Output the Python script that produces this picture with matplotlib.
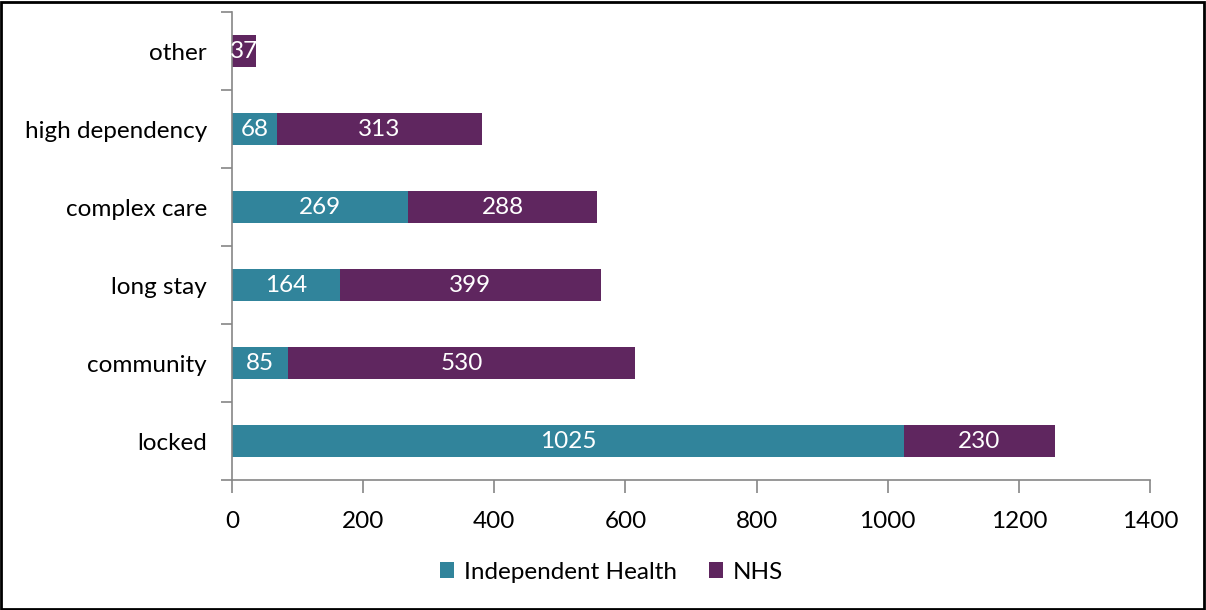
import numpy as np
import matplotlib.pyplot as plt
from matplotlib.patches import Rectangle

categories = ['locked', 'community', 'long stay', 'complex care', 'high dependency', 'other']
independent = [1025, 85, 164, 269, 68, 0]
nhs = [230, 530, 399, 288, 313, 37]

teal = '#31849B'
purple = '#5F265F'
spine_col = '#868686'

plt.rcParams['font.family'] = ['Lato', 'DejaVu Sans']
fs = 17.5

fig = plt.figure(figsize=(12.06, 6.10), dpi=100)
ax = fig.add_axes([0.1924, 0.2131, 0.7612, 0.7672])

y = np.arange(len(categories))
b1 = ax.barh(y, independent, height=0.4, color=teal, label='Independent Health')
b2 = ax.barh(y, nhs, left=independent, height=0.4, color=purple, label='NHS')

for bars, vals in ((b1, independent), (b2, nhs)):
    for rect, v in zip(bars, vals):
        if v == 0:
            continue
        ax.text(rect.get_x() + rect.get_width() / 2, rect.get_y() + rect.get_height() / 2,
                str(v), color='white', ha='center', va='center', fontsize=fs)

ax.set_xlim(0, 1400)
ax.set_ylim(-0.5, len(categories) - 0.5)
ax.set_xticks(np.arange(0, 1401, 200))
ax.set_yticks(y)
ax.set_yticklabels(categories)
ax.set_yticks(np.arange(-0.5, len(categories), 1), minor=True)
ax.tick_params(axis='y', which='major', length=0, pad=18, labelsize=fs, colors='black')
ax.tick_params(axis='y', which='minor', length=8, color=spine_col, width=1.2)
ax.tick_params(axis='x', length=9, color=spine_col, width=1.2, labelsize=fs, pad=13)

for s in ('top', 'right'):
    ax.spines[s].set_visible(False)
for s in ('left', 'bottom'):
    ax.spines[s].set_color(spine_col)
    ax.spines[s].set_linewidth(1.2)

fig.legend(handles=[b1, b2], loc='center', bbox_to_anchor=(0.507, 0.062), ncol=2,
           frameon=False, fontsize=fs, handlelength=0.6, handleheight=0.6,
           handletextpad=0.4, columnspacing=1.3)

fig.patches.append(Rectangle((0.001, 0.001), 0.997, 0.996, transform=fig.transFigure,
                             fill=False, edgecolor='black', linewidth=2))

plt.savefig('out.png', dpi=100)
